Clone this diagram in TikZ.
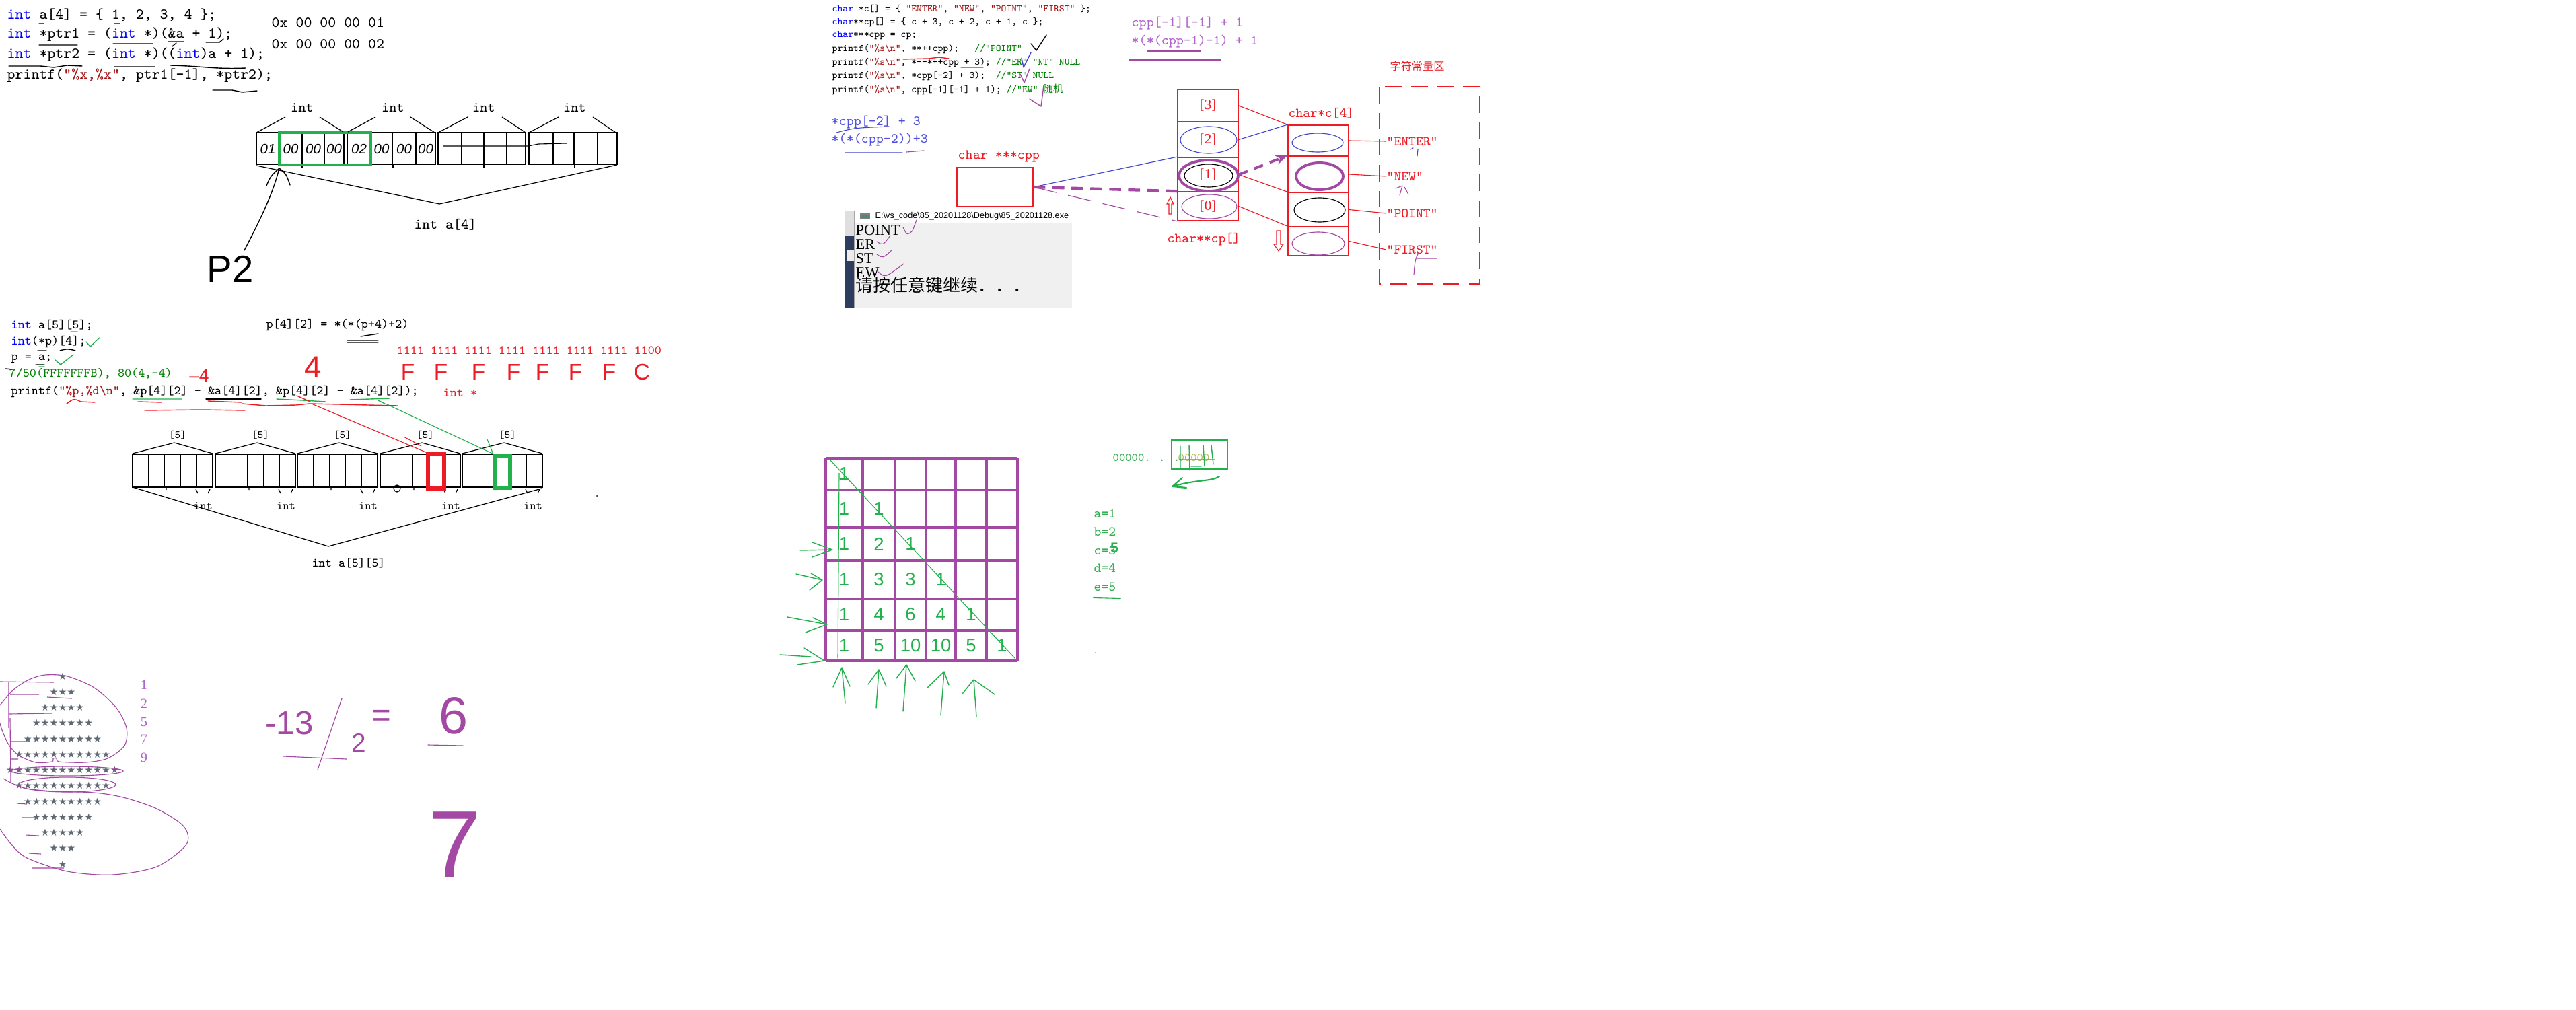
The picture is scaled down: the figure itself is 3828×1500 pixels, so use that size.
\documentclass[tikz,border=0pt]{standalone}
\usepackage{fontspec}
\setmainfont{Liberation Serif}
\newfontfamily\cjk{Noto Sans CJK SC}
\newfontfamily\symf{DejaVu Sans}
\newfontfamily\uisans{Liberation Sans}
\usetikzlibrary{arrows.meta}
\definecolor{kwblue}{RGB}{0,0,255}
\definecolor{strred}{RGB}{163,21,21}
\definecolor{cmtgreen}{RGB}{0,128,0}
\definecolor{hred}{RGB}{237,28,36}
\definecolor{hgreen}{RGB}{34,177,76}
\definecolor{tgreen}{RGB}{50,175,80}
\definecolor{olive0}{RGB}{185,185,95}
\definecolor{hpurple}{RGB}{163,73,164}
\definecolor{lpurple}{RGB}{178,100,205}
\definecolor{hblue}{RGB}{63,72,204}
\definecolor{tblue}{RGB}{80,80,225}
\definecolor{consbg}{RGB}{240,240,240}
\definecolor{navy0}{RGB}{45,60,95}
\definecolor{stargray}{RGB}{95,105,115}
\newcommand{\myfs}[1]{\fontsize{#1}{#1}\selectfont}
\tikzset{
  tx/.style={inner sep=0pt, anchor=west},
  cA/.style={tx, font=\ttfamily\myfs{6.4}},
  cC/.style={tx, font=\ttfamily\myfs{4.2}},
  cE/.style={tx, font=\ttfamily\myfs{5.4}},
  cM/.style={tx, font=\ttfamily\myfs{5.9}},
  lab/.style={inner sep=0pt, font=\ttfamily\myfs{6}},
  hand/.style={line width=0.4pt, line cap=round, line join=round},
  thn/.style={line width=0.32pt},
  cell/.style={line width=0.35pt},
  rcell/.style={draw=hred, line width=0.45pt, minimum width=0.9cm, inner sep=0pt, font=\myfs{6}, text=hred},
  hw/.style={inner sep=0pt, font=\uisans},
  grid/.style={hpurple, line width=1pt},
}
\begin{document}
\begin{tikzpicture}[x=0.01cm,y=-0.01cm]
\useasboundingbox[fill=white] (0,0) rectangle (3828,1500);

%% ---------------- Region A: top-left code
\node[cA] (a1) at (10,22) {\textcolor{kwblue}{int} a[4] = \{ 1, 2, 3, 4 \};};
\node[cA] (a2) at (10,51) {\textcolor{kwblue}{int} *ptr1 = (\textcolor{kwblue}{int} *)(\&a + 1);};
\node[cA] (a3) at (10,81) {\textcolor{kwblue}{int} *ptr2 = (\textcolor{kwblue}{int} *)((\textcolor{kwblue}{int})a + 1);};
\node[cA] (a4) at (10,112) {printf(\textcolor{strred}{"\%x,\%x"}, ptr1[-1], *ptr2);};
\node[cA] (hx1) at (403,34) {0x 00 00 00 01};
\node[cA] (hx2) at (403,66) {0x 00 00 00 02};
\draw[hand] (58,35)--(65,35) (170,35)--(178,35) (58,67)--(115,67) (168,65)--(227,65)
  (250,62)--(273,62) (256,69)--(262,64) (306,63)--(326,63)--(332,58)
  (13,98)--(60,98)--(80,100)--(100,97)--(122,98) (170,99)--(230,99);
\draw[hand] (253,97) .. controls (300,98) and (320,103) .. (365,101);
\draw[hand] (316,134)--(345,134)--(360,137)--(382,135);

%% ---------------- Region B: int a[4] memory
\foreach \l/\r in {381/511, 516/647, 651/781, 786/917} \draw[cell] (\l,197) rectangle (\r,244);
\foreach \x in {415,449,482,551,583,618,686,719,753,822,853,888} \draw[cell] (\x,197)--(\x,244);
\foreach \l/\r in {551/618, 686/753, 822/888} \draw[line width=0.7pt] (\l,197)--(\r,197) (\l,244)--(\r,244);
\foreach \x in {449,584,719,854} \draw[cell] (\x,244)--(\x,250);
\draw[hgreen, line width=1pt] (415,197) rectangle (551,245);
\node[lab] (int1) at (449,160) {int};
\node[lab] (int2) at (584,160) {int};
\node[lab] (int3) at (719,160) {int};
\node[lab] (int4) at (854,160) {int};
\draw[cell] (381,197)--(424,174) (475,174)--(510,196)
  (517,196)--(558,174) (610,174)--(646,197)
  (651,197)--(695,174) (746,174)--(781,197)
  (786,197)--(830,174) (881,174)--(915,197);
\foreach \x/\t [count=\i] in {398/01,432/00,465.5/00,496.5/00,533.5/02,567/00,600.5/00,632.5/00}
  \node[hw, font=\uisans\itshape\myfs{5.8}] (byte\i) at (\x,221) {\t};
\draw[hand, thn] (659,217)--(785,217)--(800,214)--(842,213);
\draw[cell] (381,246)--(653,303)--(917,245);
\node[lab, font=\ttfamily\myfs{6.2}] (ia4) at (662,334) {int a[4]};
\draw[hand] (363,372) .. controls (385,330) and (405,290) .. (415,250);
\draw[hand] (396,276) .. controls (402,262) .. (415,250) .. controls (425,258) .. (431,275);
\node[hw, font=\uisans\myfs{16}] (p2) at (342,400) {P2};

%% ---------------- Region C: char code
\node[cC] (l1) at (1236,13) {\textcolor{kwblue}{char} *c[] = \{ \textcolor{strred}{"ENTER"}, \textcolor{strred}{"NEW"}, \textcolor{strred}{"POINT"}, \textcolor{strred}{"FIRST"} \};};
\node[cC] (l2) at (1236,33) {\textcolor{kwblue}{char}**cp[] = \{ c + 3, c + 2, c + 1, c \};};
\node[cC] (l3) at (1236,53) {\textcolor{kwblue}{char}***cpp = cp;};
\node[cC] (l4) at (1236,73) {printf(\textcolor{strred}{"\%s\textbackslash n"}, **++cpp);\ \ \ \textcolor{cmtgreen}{//"POINT"}};
\node[cC] (l5) at (1236,93) {printf(\textcolor{strred}{"\%s\textbackslash n"}, *-{}-*++cpp + 3); \textcolor{cmtgreen}{//"ER" "NT" NULL}};
\node[cC] (l6) at (1236,113) {printf(\textcolor{strred}{"\%s\textbackslash n"}, *cpp[-2] + 3);\ \ \textcolor{cmtgreen}{//"ST" NULL}};
\node[cC] (l7) at (1236,133) {printf(\textcolor{strred}{"\%s\textbackslash n"}, cpp[-1][-1] + 1); \textcolor{cmtgreen}{//"EW" {\cjk 随机}}};
\draw[hand] (1532,65)--(1540,75)--(1555,52);
\draw[hand, hred] (1342,88)--(1380,87)--(1395,85)--(1410,87);
\draw[hand, hblue] (1428,100)--(1461,100) (1518,86)--(1521,100)--(1532,78);
\draw[hand, hpurple] (1516,110)--(1522,123)--(1530,102) (1530,147)--(1547,158)--(1551,127);
\node[cM, text=lpurple] (pp1) at (1681,35) {cpp[-1][-1] + 1};
\node[cM, text=lpurple] (pp2) at (1681,62) {*(*(cpp-1)-1) + 1};
\draw[hpurple, line width=1.2pt] (1704,76)--(1785,76) (1677,89)--(1814,89);

%% ---------------- Region D: pointer diagram
\node[cM, text=tblue] (b1) at (1235,182) {*cpp[-2] + 3};
\node[cM, text=tblue] (b2) at (1235,208) {*(*(cpp-2))+3};
\draw[hand, hblue, thn] (1243,197) .. controls (1270,190) .. (1321,188) (1256,227)--(1341,227);
\draw[hand, hpurple, thn] (1347,226)--(1373,224);
\node[cM, text=hred] (cpplab) at (1423,232) {char ***cpp};
\node[draw=hred, line width=0.45pt, minimum width=1.13cm, minimum height=0.58cm, inner sep=0pt] (cppbox) at (1478.5,278) {};

\node[rcell, minimum height=0.48cm] (cp3) at (1795,157) {[3]};
\node[rcell, minimum height=0.53cm] (cp2) at (1795,207.5) {[2]};
\node[rcell, minimum height=0.51cm] (cp1) at (1795,259.5) {[1]};
\node[rcell, minimum height=0.43cm] (cp0) at (1795,306.5) {[0]};
\node[rcell, minimum height=0.46cm] (c0) at (1959,209) {};
\node[rcell, minimum height=0.54cm] (c1) at (1959,259) {};
\node[rcell, minimum height=0.51cm] (c2) at (1959,311.5) {};
\node[rcell, minimum height=0.43cm] (c3) at (1959,358.5) {};
\draw[hblue, thn] (1796,208) ellipse [x radius=42, y radius=20];
\draw[black, thn] (1796,261) ellipse [x radius=36, y radius=17];
\draw[hpurple, line width=1.1pt] (1796,261) ellipse [x radius=44, y radius=23];
\draw[hpurple, thn] (1797,307) ellipse [x radius=41, y radius=18];
\draw[hblue, thn] (1958,212) ellipse [x radius=38, y radius=14];
\draw[hpurple, line width=1.1pt] (1961,262) ellipse [x radius=35, y radius=20];
\draw[black, thn] (1961,312) ellipse [x radius=38, y radius=18];
\draw[hpurple, thn] (1959,362) ellipse [x radius=39, y radius=17];

\node[cM, text=hred, font=\ttfamily\myfs{5.8}] (cplab) at (1734,356) {char**cp[]};
\node[cM, text=hred, font=\ttfamily\myfs{5.8}] (clab) at (1914,168) {char*c[4]};
\node[inner sep=0pt, text=hred, font=\cjk\myfs{4.6}] (zfq) at (2106,98) {字符常量区};
\draw[hred, line width=0.45pt, dash pattern=on 7pt off 4pt] (2050,129) rectangle (2199,422);

\node[cM, text=hred, font=\ttfamily\myfs{5.8}] (s0) at (2060,210) {”ENTER”};
\node[cM, text=hred, font=\ttfamily\myfs{5.8}] (s1) at (2060,262) {”NEW”};
\node[cM, text=hred, font=\ttfamily\myfs{5.8}] (s2) at (2060,317) {”POINT”};
\node[cM, text=hred, font=\ttfamily\myfs{5.8}] (s3) at (2060,371) {”FIRST”};

\draw[hred, thn] (cp3.east) -- (c0.north west);
\draw[hblue, thn] (cp2.east) -- (c0.north west);
\draw[hred, thn] (cp1.east) -- (c2.north west);
\draw[hred, thn] (cp0.east) -- (c3.north west);
\draw[hpurple, line width=1.1pt, dash pattern=on 4pt off 3pt, -{Stealth[length=5pt,width=4pt]}] (cp1.east) -- (c1.north west);
\draw[hred, thn] (c0.east) -- (s0.west);
\draw[hred, thn] (c1.east) -- (s1.west);
\draw[hred, thn] (c2.east) -- (s2.west);
\draw[hred, thn] (c3.east) -- (s3.west);
\draw[hblue, thn] (cppbox.east) -- (cp1.north west);
\draw[hpurple, line width=1.2pt, dash pattern=on 5pt off 3pt] (cppbox.east) -- (cp0.north west);
\draw[hpurple, thn, dash pattern=on 10pt off 5pt] (cppbox.east) -- (cp0.south west);

\draw[hred, thn] (1737,318)--(1737,303)--(1734,303)--(1739,293)--(1744,303)--(1741,303)--(1741,318)--cycle;
\draw[hred, thn] (1897,343)--(1903,343)--(1903,363)--(1907,363)--(1900,373)--(1893,363)--(1897,363)--cycle;
\draw[hand, hblue, thn] (2096,222)--(2100,220) (2107,222)--(2106,232);
\draw[hand, hpurple, thn] (2074,280)--(2084,276)--(2080,290) (2087,278)--(2093,289);
\draw[hand, hpurple, thn] (2108,376) .. controls (2103,385) .. (2101,408) (2106,384)--(2135,384);

%% ---------------- Console
\fill[consbg] (1270,332) rectangle (1593,458);
\fill[gray!25] (1255,313) rectangle (1270,350);
\fill[navy0] (1255,350) rectangle (1270,458);
\fill[gray!15] (1258,372) rectangle (1269,388);
\draw[gray!70, thn] (1270,313)--(1270,458);
\draw[gray, thn, fill={rgb,255:red,70;green,140;blue,120}] (1279,318) rectangle (1292,325);
\node[tx, font=\uisans\myfs{3.6}] (ttl) at (1300,321) {E:\textbackslash vs\_code\textbackslash 85\_20201128\textbackslash Debug\textbackslash 85\_20201128.exe};
\node[tx, font=\myfs{6.4}] (o1) at (1271,342) {POINT};
\node[tx, font=\myfs{6.4}] (o2) at (1271,363) {ER};
\node[tx, font=\myfs{6.4}] (o3) at (1271,384) {ST};
\node[tx, font=\myfs{6.4}] (o4) at (1271,405) {EW};
\node[tx, font=\cjk\myfs{7.4}] (o5) at (1271,424) {请按任意键继续．．．};
\draw[hand, hpurple, thn] (1342,338) .. controls (1348,350) .. (1356,343) -- (1362,327);
\draw[hand, hpurple, thn] (1303,359) .. controls (1312,365) .. (1323,350);
\draw[hand, hpurple, thn] (1303,378) .. controls (1312,384) .. (1325,372);
\draw[hand, hpurple, thn] (1305,404) .. controls (1315,413) .. (1343,392);

%% ---------------- Region E: 2D array code
\node[cE] (e1) at (16,483) {\textcolor{kwblue}{int} a[5][5];};
\node[cE] (e2) at (16,508) {\textcolor{kwblue}{int}(*p)[4];};
\node[cE] (e3) at (16,533) {p = a;};
\node[cE, text=cmtgreen] (e4) at (13,555) {7/50(FFFFFFFB), 80(4,-4)};
\node[cE] (e5) at (16,582) {printf(\textcolor{strred}{"\%p,\%d\textbackslash n"}, \&p[4][2] - \&a[4][2], \&p[4][2] - \&a[4][2]);};
\node[cE] (e6) at (395,483) {p[4][2] = *(*(p+4)+2)};
\node[cE, text=hred] (bits) at (589,521) {1111 1111 1111 1111 1111 1111 1111 1100};
\node[cE, text=hred] (intp) at (658,584) {int *};
\draw[hand, hgreen] (128,508)--(134,515)--(148,502) (82,535)--(90,542)--(109,527) (105,493)--(115,493) (58,545)--(66,545);
\draw[hand] (56,521)--(69,521) (89,521) .. controls (100,518) .. (112,521) (53,542)--(66,542) (8,548)--(18,549);
\draw[hand] (516,506)--(562,506) (516,509)--(562,509) (536,500)--(562,496);
\draw[hand, hred] (99,600) .. controls (110,592) .. (120,597) -- (141,598);
\draw[hand, hgreen] (197,593)--(270,593) (411,593)--(450,595)--(484,597) (520,594)--(579,592) (562,595)--(572,600);
\draw[hand] (306,593)--(388,593);
\draw[hand, hred] (309,596)--(359,598) (441,588)--(461,597) (205,597)--(240,598);
\node[hw, text=hred, font=\uisans\myfs{7.5}] (m4) at (296,558) {–4};
\node[hw, text=hred, font=\uisans\myfs{13}] (big4) at (465,546) {4};
\foreach \x/\c [count=\i] in {606/F,655/F,711/F,763/F,806/F,855/F,905/F,954/C}
  \node[hw, text=hred, font=\uisans\myfs{9.5}] (hexd\i) at (\x,553) {\c};

%% ---------------- Region F: int a[5][5]
\foreach \l [count=\i] in {197,320,442,565,687} {
  \draw[cell] (\l,675) rectangle ({\l+119},724);
  \foreach \k in {1,...,4} \draw[cell] ({\l+\k*23.8},675)--({\l+\k*23.8},724);
  \draw[line width=0.7pt] ({\l+23.8},675)--({\l+95.2},675);
  \draw[cell] (\l,674)--({\l+62},658)--({\l+119},674);
  \node[lab, font=\ttfamily\myfs{4.6}] (five\i) at ({\l+67},647) {[5]};
  \node[lab, font=\ttfamily\myfs{5}] (fint\i) at ({\l+105},752) {int};
  \draw[cell] ({\l+94},727)--({\l+97},733) ({\l+115},727)--({\l+112},733) ({\l+50},724)--({\l+50},728);
}
\draw[hred, line width=1.5pt] (636,675) rectangle (660,726);
\draw[hgreen, line width=1.5pt] (735,677) rectangle (758,725);
\draw[cell] (590,726) circle [radius=5];
\draw[cell] (197,724)--(488,812)--(805,726);
\node[lab, font=\ttfamily\myfs{5.3}] (ia55) at (518,837) {int a[5][5]};
\draw[hred, thn] (463,600)--(635,673) (600,649)--(626,663);
\draw[hgreen, thn] (573,600)--(736,676) (724,653)--(733,675);
\draw[hred, hand] (215,610)--(300,609)--(364,610) (360,600)--(395,603)--(440,602)--(460,600)--(591,603);
\fill (887,737) circle [radius=1];

%% ---------------- Region G: Pascal grid
\foreach \x in {1227,1282,1330,1376,1420,1466,1512} \draw[grid] (\x,681)--(\x,982);
\foreach \y in {681,728,784,833,890,937,982} \draw[grid] (1227,\y)--(1512,\y);
\draw[hgreen, thn] (1232,682)--(1508,978);
\draw[hgreen, thn] (1247,703)--(1245,978);
\foreach \r/\c/\t in {0/0/1, 1/0/1,1/1/1, 2/0/1,2/1/2,2/2/1, 3/0/1,3/1/3,3/2/3,3/3/1,
  4/0/1,4/1/4,4/2/6,4/3/4,4/4/1, 5/0/1,5/1/5,5/2/10,5/3/10,5/4/5,5/5/1} {
  \pgfmathsetmacro{\cx}{{1254.5,1306,1353,1398,1443,1489}[\c]}
  \pgfmathsetmacro{\cy}{{704.5,756,808.5,861.5,913.5,959.5}[\r]}
  \node[hw, text=hgreen, font=\uisans\myfs{7.8}] (pas\r\c) at (\cx,\cy) {\t};
}
\draw[hand, hgreen] (1189,818)--(1237,817) (1207,806)--(1237,817)--(1207,828);
\draw[hand, hgreen] (1183,853)--(1222,862) (1205,852)--(1222,862)--(1203,877);
\draw[hand, hgreen] (1170,917)--(1229,928) (1208,918)--(1229,928)--(1197,940);
\draw[hand, hgreen] (1159,973)--(1205,976) (1195,963)--(1225,982)--(1185,988);
\foreach \tx/\ty/\bx/\by/\lx/\ly/\rx/\ry in {1251/992/1256/1045/1238/1021/1263/1020,
  1306/995/1302/1052/1290/1017/1317/1020, 1347/988/1342/1057/1332/1008/1360/1012,
  1403/998/1398/1063/1378/1022/1410/1018, 1447/1010/1451/1065/1430/1031/1478/1032}
  \draw[hand, hgreen] (\bx,\by)--(\tx,\ty) (\lx,\ly)--(\tx,\ty)--(\rx,\ry);

%% ---------------- Region H
\node[tx, text=tgreen, font=\ttfamily\myfs{5}] (zz) at (1653,680) {00000. . .};
\draw[hgreen, line width=0.45pt] (1741,654) rectangle (1824,697);
\node[tx, text=olive0, font=\ttfamily\myfs{5}] (zz2) at (1750,680) {00000};
\draw[hand, hgreen] (1754,663)--(1754,698) (1767,662)--(1768,699) (1788,662)--(1790,693) (1800,662)--(1803,690) (1770,693)--(1785,693) (1752,683)--(1805,683);
\draw[hand, hgreen, line width=0.6pt] (1812,708) .. controls (1800,716) and (1780,712) .. (1742,723) (1757,710)--(1742,723)--(1763,725);
\node[cM, text=tgreen, font=\ttfamily\myfs{5.8}] (va) at (1625,763) {a=1};
\node[cM, text=tgreen, font=\ttfamily\myfs{5.8}] (vb) at (1625,790) {b=2};
\node[cM, text=tgreen, font=\ttfamily\myfs{5.8}] (vc) at (1625,818) {c=3};
\node[cM, text=tgreen, font=\ttfamily\myfs{5.8}] (vd) at (1625,844) {d=4};
\node[cM, text=tgreen, font=\ttfamily\myfs{5.8}] (ve) at (1625,872) {e=5};
\node[hw, text=hgreen, font=\uisans\bfseries\myfs{6}] (c5) at (1656,814) {5};
\draw[hand, hgreen, line width=0.6pt] (1625,888)--(1665,889);
\fill[hgreen] (1628,970) circle [radius=1];

%% ---------------- Region I: stars
\foreach \k/\s in {0/★,1/★★★,2/★★★★★,3/★★★★★★★,4/★★★★★★★★★,5/★★★★★★★★★★★,6/★★★★★★★★★★★★★,
  7/★★★★★★★★★★★,8/★★★★★★★★★,9/★★★★★★★,10/★★★★★,11/★★★,12/★}
  \node[inner sep=0pt, text=stargray, font=\symf\myfs{4.1}] (star\k) at (93,{1005+23.25*\k}) {\s};
\foreach \y/\t [count=\i] in {1018/1,1046/2,1073/5,1099/7,1126/9}
  \node[inner sep=0pt, text=lpurple, font=\myfs{5.8}] (num\i) at (214,\y) {\t};
\draw[hpurple, thn] plot[smooth] coordinates {(0,1048) (20,1025) (43,1010) (67,1003) (100,1005) (140,1022) (173,1052) (188,1082) (185,1108) (160,1127) (127,1133) (88,1132) (84,1127) (79,1127) (77,1132) (53,1133) (27,1122) (12,1105) (3,1085) (0,1075)};
\draw[hpurple, thn] (100,1146) ellipse [x radius=83, y radius=7];
\draw[hpurple, thn] (100,1166) ellipse [x radius=72, y radius=11];
\draw[hpurple, thn] plot[smooth] coordinates {(5,1157) (20,1165) (40,1172) (80,1176) (140,1178) (183,1185) (233,1202) (273,1228) (277,1255) (233,1288) (167,1300) (100,1295) (40,1275) (17,1255) (0,1232)};
\draw[hpurple, thn] (0,1013)--(80,1014) (13,1013)--(13,1082) (15,1067)--(16,1162)
  (15,1032)--(58,1032) (13,1061)--(77,1060) (15,1102)--(43,1102) (17,1128)--(27,1128)
  (70,1036)--(107,1038) (25,1194)--(40,1195) (33,1215)--(50,1215) (38,1241)--(58,1242)
  (43,1268)--(61,1269) (48,1290)--(95,1290);

%% ---------------- Region J
\node[hw, text=hpurple, font=\uisans\myfs{14}] (n13) at (430,1075) {-13};
\draw[hand, hpurple, thn] (508,1038)--(472,1144) (421,1124)--(515,1128) (636,1107)--(688,1108);
\node[hw, text=hpurple, font=\uisans\myfs{11}] (n2) at (533,1104) {2};
\node[hw, text=hpurple, font=\uisans\myfs{14}] (neq) at (567,1067) {=};
\node[hw, text=hpurple, font=\uisans\myfs{22}] (n6) at (674,1064) {6};
\node[hw, text=hpurple, font=\uisans\myfs{40}] (n7) at (676,1255) {7};
\end{tikzpicture}
\end{document}
